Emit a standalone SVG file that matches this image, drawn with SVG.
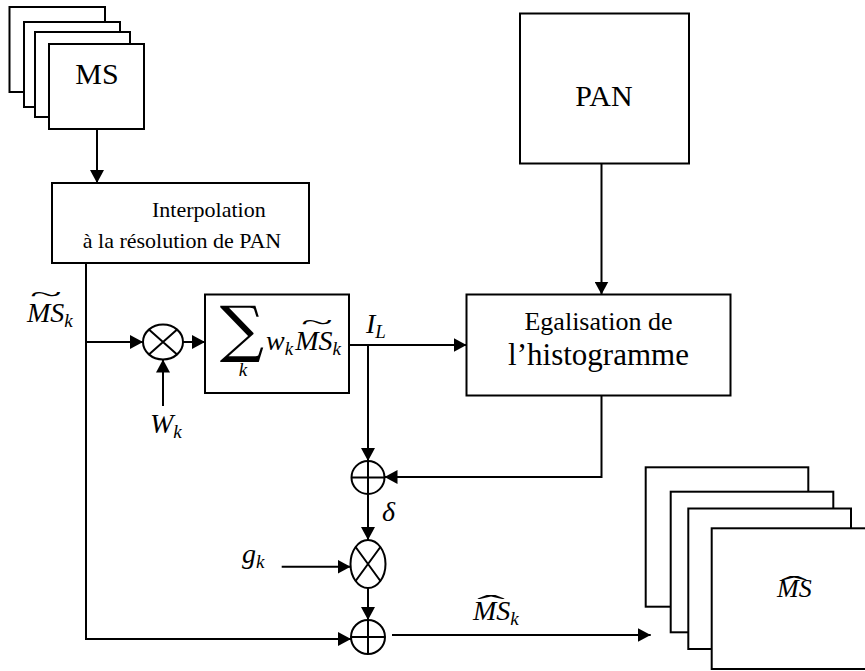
<svg xmlns="http://www.w3.org/2000/svg" width="865" height="671" viewBox="0 0 865 671">
<defs>
<marker id="ah" markerUnits="userSpaceOnUse" viewBox="0 0 13 14" markerWidth="13" markerHeight="14" refX="13" refY="7" orient="auto"><path d="M0,0 L13,7 L0,14 z" fill="#000"/></marker>
</defs>
<style>
.box{fill:#fff;stroke:#000;stroke-width:2}
.op{fill:#fff;stroke:#000;stroke-width:2}
.ln{fill:none;stroke:#000;stroke-width:2}
.c{fill:none;stroke:#000;stroke-width:2;marker-end:url(#ah)}
</style>
<rect width="865" height="671" fill="#fff"/>

<g id="ms-stack">
<rect class="box" x="9.5" y="7" width="95.5" height="85"/>
<rect class="box" x="24" y="22" width="96" height="85"/>
<rect class="box" x="35" y="32" width="95" height="85"/>
<rect class="box" x="49" y="44" width="95" height="85"/>
<text font-family="Liberation Serif" x="97" y="84" font-size="30" text-anchor="middle">MS</text>
</g>

<g id="pan">
<rect class="box" x="520" y="13.5" width="169" height="150"/>
<text font-family="Liberation Serif" x="604" y="106" font-size="30" text-anchor="middle">PAN</text>
</g>

<g id="interpolation">
<rect class="box" x="52" y="183" width="257" height="80"/>
<text font-family="Liberation Serif" x="152" y="217" font-size="22">Interpolation</text>
<text font-family="Liberation Serif" x="182" y="248" font-size="22" text-anchor="middle">à la résolution de PAN</text>
</g>

<g id="sum">
<rect class="box" x="205" y="294.5" width="144" height="98.5"/>
<text font-family="DejaVu Serif" x="242" y="350" font-size="62" text-anchor="middle">∑</text>
<text font-family="Liberation Serif" font-style="italic" x="243" y="376" font-size="19" text-anchor="middle">k</text>
<text font-family="Liberation Serif" font-style="italic" x="266" y="350" font-size="28">w<tspan font-size="19" dy="5">k</tspan><tspan dy="-5" dx="2">MS</tspan><tspan font-size="19" dy="5">k</tspan></text>
<text font-family="Liberation Serif" x="0" y="0" font-size="28" text-anchor="middle" transform="translate(317,330) scale(2.1,0.8)">~</text>
</g>

<g id="egalisation">
<rect class="box" x="466.5" y="294.5" width="264" height="101"/>
<text font-family="Liberation Serif" x="598.5" y="330" font-size="26" text-anchor="middle">Egalisation de</text>
<text font-family="Liberation Serif" x="598.5" y="365" font-size="31" text-anchor="middle">l’histogramme</text>
</g>

<g id="mult1">
<ellipse class="op" cx="163" cy="342" rx="20" ry="17.5"/>
<path class="ln" d="M148.9,329.6 L177.1,354.4 M177.1,329.6 L148.9,354.4"/>
</g>

<g id="add1">
<circle class="op" cx="368" cy="477.5" r="16.5"/>
<path class="ln" d="M351.5,477.5 H384.5 M368,461 V494"/>
</g>

<g id="mult2">
<ellipse class="op" cx="368" cy="564" rx="17.5" ry="24"/>
<path class="ln" d="M355.6,547 L380.4,581 M380.4,547 L355.6,581"/>
</g>

<g id="add2">
<circle class="op" cx="368" cy="637" r="17"/>
<path class="ln" d="M351,637 H385 M368,620 V654"/>
</g>

<g id="out-stack">
<rect class="box" x="645.7" y="467.3" width="162.6" height="139.4"/>
<rect class="box" x="670.7" y="491.7" width="162.6" height="140.6"/>
<rect class="box" x="688.3" y="508.5" width="162.7" height="140.5"/>
<rect class="box" x="711.7" y="528.3" width="162.7" height="140.7"/>
<text font-family="Liberation Serif" font-style="italic" x="777" y="597" font-size="26">MS</text>
<text font-family="Liberation Serif" x="0" y="0" font-size="26" text-anchor="middle" transform="translate(794,594) scale(3,1)">ˆ</text>
</g>

<g id="labels">
<text font-family="Liberation Serif" font-style="italic" x="27" y="322" font-size="28">MS<tspan font-size="19" dy="5">k</tspan></text>
<text font-family="Liberation Serif" x="0" y="0" font-size="28" text-anchor="middle" transform="translate(46,302) scale(2.1,0.8)">~</text>
<text font-family="Liberation Serif" font-style="italic" x="150" y="433" font-size="28">W<tspan font-size="19" dy="5">k</tspan></text>
<text font-family="Liberation Serif" font-style="italic" x="366" y="333" font-size="28">I<tspan font-size="19" dy="5">L</tspan></text>
<text font-family="Liberation Serif" font-style="italic" x="382" y="521" font-size="28">δ</text>
<text font-family="Liberation Serif" font-style="italic" x="242" y="563" font-size="28">g<tspan font-size="19" dy="5">k</tspan></text>
<text font-family="Liberation Serif" font-style="italic" x="473" y="620" font-size="28">MS<tspan font-size="19" dy="5">k</tspan></text>
<text font-family="Liberation Serif" x="0" y="0" font-size="28" text-anchor="middle" transform="translate(491,614) scale(3,1)">ˆ</text>
</g>

<g id="connectors">
<path class="c" d="M97,129 V183"/>
<path class="c" d="M601.5,163.5 V294.5"/>
<path class="c" d="M86,263 V639 H351"/>
<path class="c" d="M86,342 H143"/>
<path class="c" d="M183,342 H205"/>
<path class="c" d="M163,406 V359.5"/>
<path class="c" d="M349,345 H466.5"/>
<path class="c" d="M368,345 V461"/>
<path class="c" d="M601.5,395.5 V477 H384.5"/>
<path class="c" d="M368,494 V540"/>
<path class="c" d="M281.7,566.7 H350.5"/>
<path class="c" d="M368,588 V620"/>
<path class="c" d="M392,635 H650.7"/>
</g>
</svg>
